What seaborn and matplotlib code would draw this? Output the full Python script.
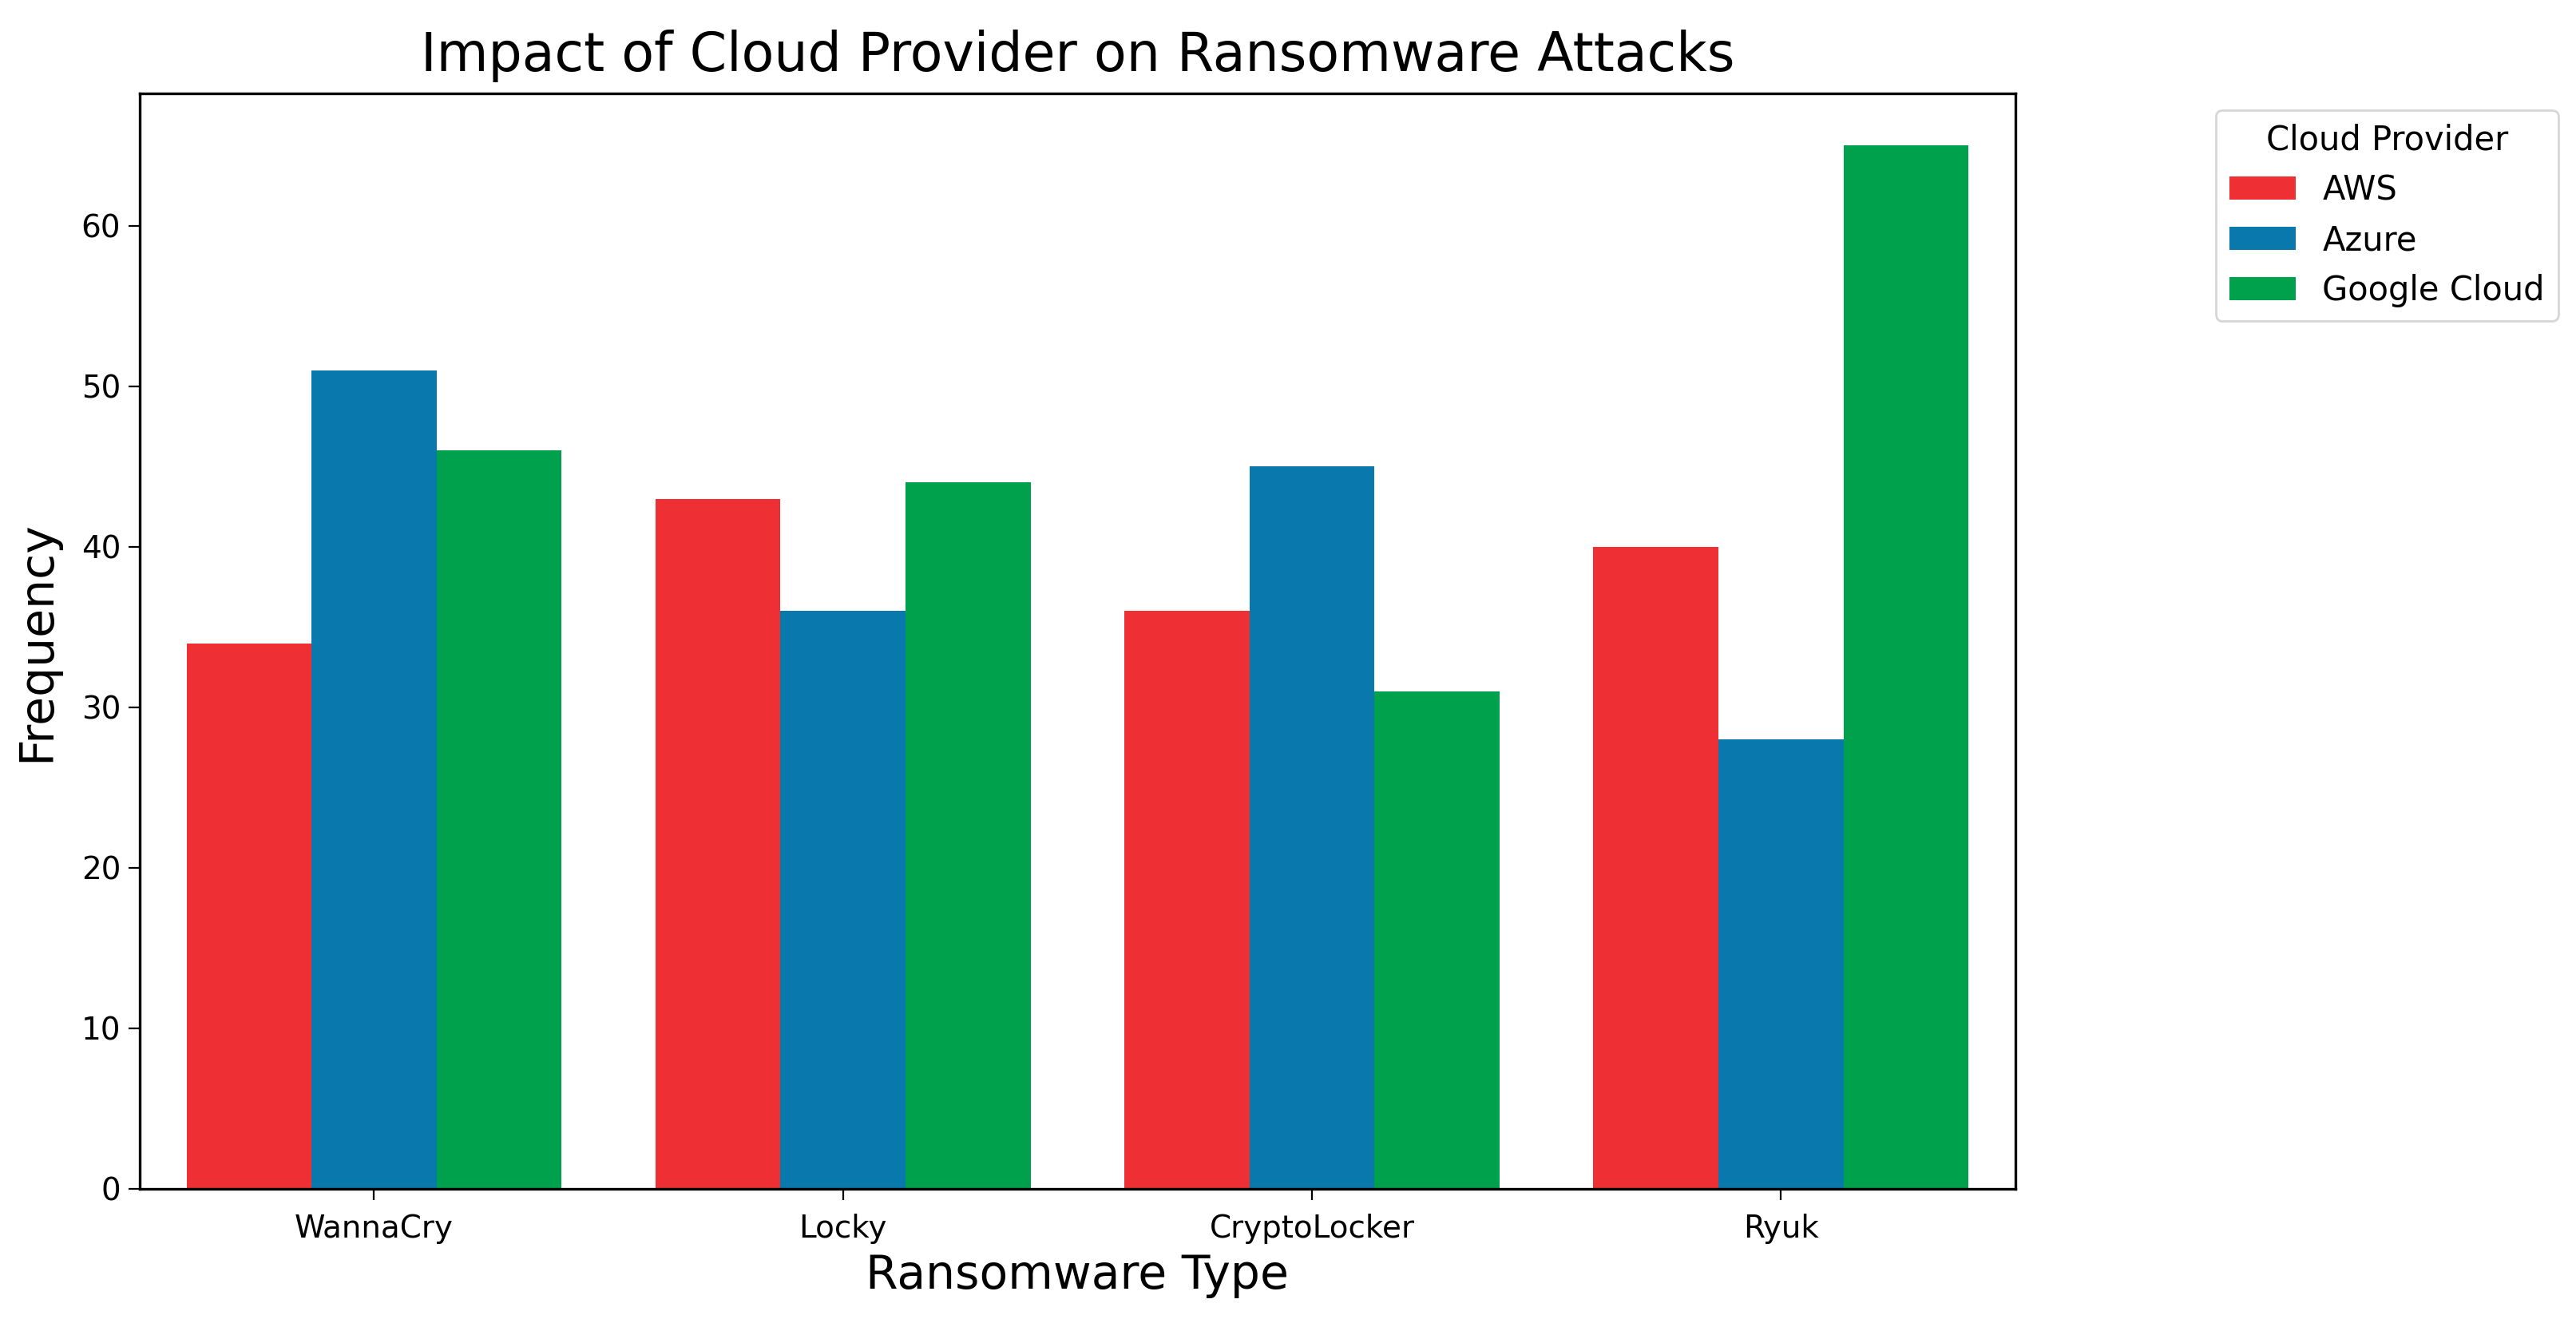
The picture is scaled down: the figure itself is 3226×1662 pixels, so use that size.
#!/usr/bin/env python3
"""
Grouped bar chart: ransomware attack frequency by cloud provider
"""

import matplotlib
matplotlib.use("Agg")
import matplotlib.pyplot as plt
import seaborn as sns
import pandas as pd

# Data
ransomware_types = ["WannaCry", "Locky", "CryptoLocker", "Ryuk"]
providers = ["AWS", "Azure", "Google Cloud"]
aws_freq = [34, 43, 36, 40]
azure_freq = [51, 36, 45, 28]
google_freq = [46, 44, 31, 65]

colors = {"AWS": "#ee2f33", "Azure": "#0878ad", "Google Cloud": "#00a14d"}

rows = []
for provider, values in zip(providers, [aws_freq, azure_freq, google_freq]):
    for rtype, val in zip(ransomware_types, values):
        rows.append({"Ransomware Type": rtype, "Cloud Provider": provider, "Frequency": val})
df = pd.DataFrame(rows)

sns.set_style("ticks")
plt.rcParams["font.family"] = ["DejaVu Sans"]
for key in ["text.color", "axes.labelcolor", "xtick.color", "ytick.color", "axes.edgecolor"]:
    plt.rcParams[key] = "black"

fig = plt.figure(figsize=(16.13, 8.31), dpi=200)
ax = fig.add_axes([0.0542, 0.1041, 0.7282, 0.8255])

sns.barplot(data=df, x="Ransomware Type", y="Frequency", hue="Cloud Provider",
            order=ransomware_types, hue_order=providers, palette=colors,
            saturation=1, width=0.8, linewidth=0, edgecolor="none", ax=ax)

ax.set_title("Impact of Cloud Provider on Ransomware Attacks", fontsize=24, pad=10)
ax.set_xlabel("Ransomware Type", fontsize=21)
ax.set_ylabel("Frequency", fontsize=21, labelpad=10)
ax.tick_params(axis="both", labelsize=14, length=5)
ax.tick_params(axis="x", pad=6)
ax.set_ylim(0, 65 * 1.05)
ax.set_xlim(-0.5, 3.5)
for spine in ax.spines.values():
    spine.set_visible(True)
    spine.set_linewidth(1.2)

ax.legend(title="Cloud Provider", bbox_to_anchor=(1.098, 1.0), loc="upper left",
          fontsize=15, title_fontsize=15, frameon=True)

fig.savefig("out.png", dpi=200)
plt.close(fig)
